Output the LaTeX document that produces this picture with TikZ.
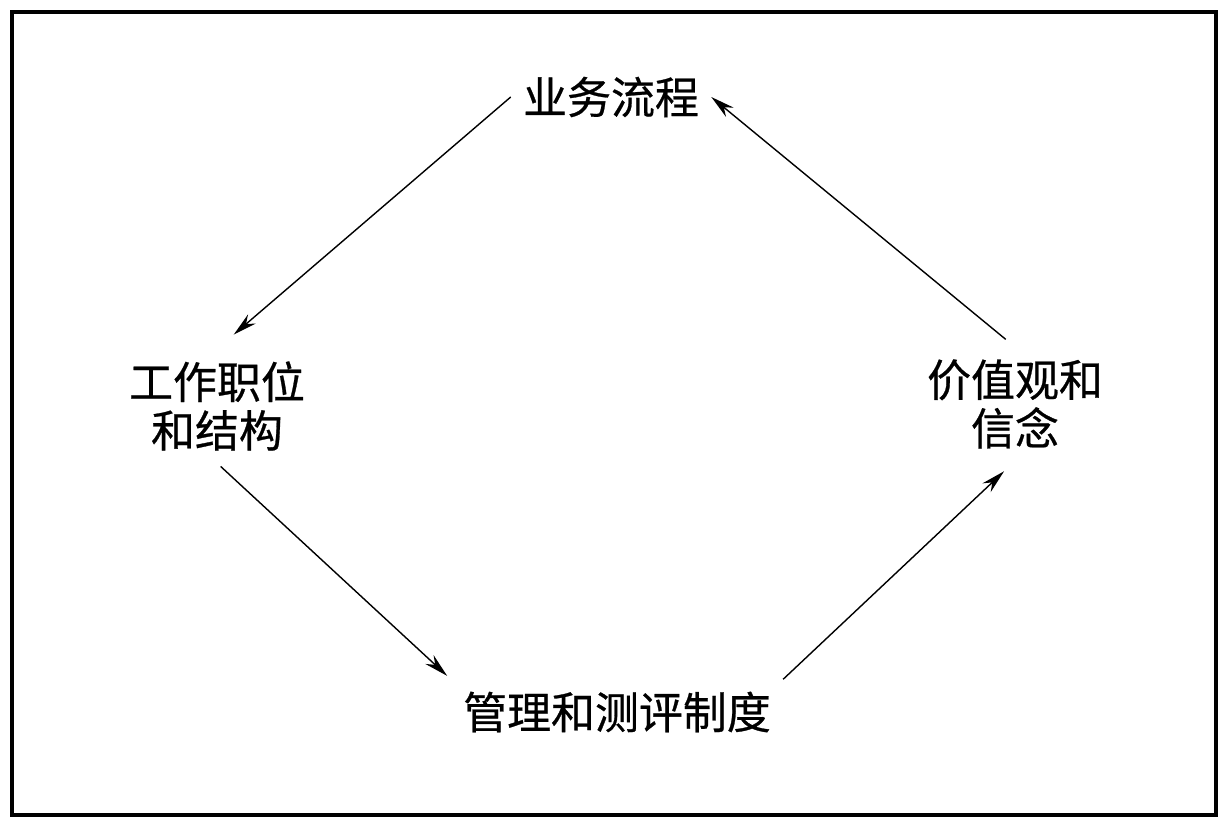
\documentclass[tikz,border=0pt]{standalone}
\usepackage{fontspec}
\newfontfamily\cjk[FakeBold=0.6]{Noto Sans CJK SC}
\usepackage{tikz}
\usetikzlibrary{arrows.meta}

\begin{document}
\begin{tikzpicture}[
        every node/.style={font=\cjk\fontsize{12.5}{13.8}\selectfont, align=center},
        flow/.style={line width=0.4pt, -{Stealth[length=2.4mm,width=1.2mm]}}]
        \useasboundingbox (0,0) rectangle (12.27,8.25);
        \draw[line width=1pt] (0.12,0.10) rectangle (12.16,8.13);
        \node (process) at (6.11,7.28) {业务流程};
        \node (jobs) at (2.17,4.19) {工作职位\\和结构};
        \node (values) at (10.15,4.21) {价值观和\\信念};
        \node (mgmt) at (6.17,1.13) {管理和测评制度};
        \draw[flow, shorten >=0.22cm] (process.west) -- (jobs.north);
        \draw[flow, shorten <=0.05cm, shorten >=0.05cm] (jobs.south) -- (mgmt.north west);
        \draw[flow, shorten >=0.15cm] (mgmt.north east) -- (values.south);
        \draw[flow, shorten <=0.12cm] (values.north) -- (process.east);
      \end{tikzpicture}
\end{document}
